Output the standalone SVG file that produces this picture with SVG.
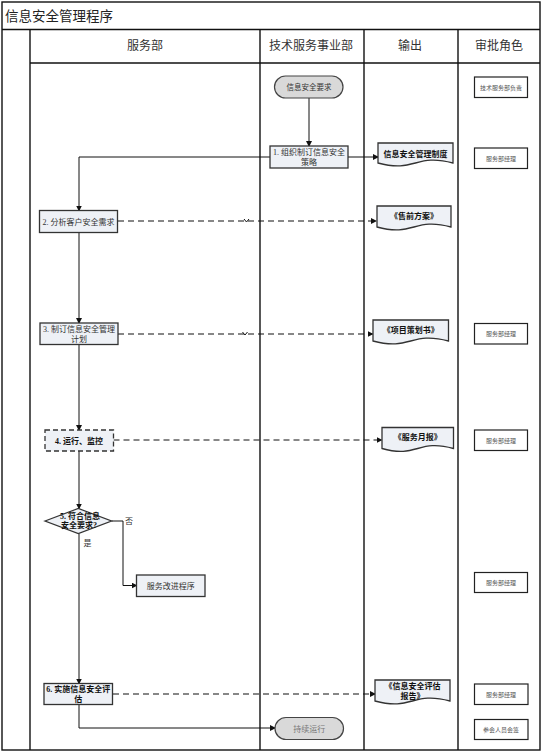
<svg xmlns="http://www.w3.org/2000/svg" width="543" height="753" viewBox="0 0 543 753">
<style>
text{font-family:"Liberation Serif","Noto Sans CJK SC",serif;fill:#222}
.hd{font-size:12px;text-anchor:middle;fill:#333}
.bx{fill:#eef1f6;stroke:#333;stroke-width:1.3}
.t8{font-size:8px;text-anchor:middle;fill:#333}
.b8{font-size:8px;text-anchor:middle;font-weight:bold;fill:#111}
.role{fill:#fff;stroke:#222;stroke-width:1.2}
.rt{font-size:6px;text-anchor:middle;fill:#555}
.term{fill:#d9d9d9;stroke:#444;stroke-width:1.2}
.ln{fill:none;stroke:#111;stroke-width:1}
.dl{fill:none;stroke:#111;stroke-width:1.2;stroke-dasharray:6,4}
.grid{fill:none;stroke:#111;stroke-width:1.4}
</style>
<defs>
<marker id="ah" markerWidth="6" markerHeight="6" refX="5" refY="3" orient="auto" markerUnits="userSpaceOnUse">
<path d="M0,0 L6,3 L0,6 Z" fill="#111"/>
</marker>
</defs>
<rect x="0" y="0" width="543" height="753" fill="#fff"/>
<g id="frame">
<rect class="grid" x="2" y="2" width="538" height="748"/>
<line class="grid" x1="2" y1="29.5" x2="540" y2="29.5"/>
<line class="grid" x1="30" y1="63" x2="540" y2="63"/>
<line class="grid" x1="30" y1="29.5" x2="30" y2="750"/>
<line class="grid" x1="260" y1="29.5" x2="260" y2="750"/>
<line class="grid" x1="364" y1="29.5" x2="364" y2="750"/>
<line class="grid" x1="458" y1="29.5" x2="458" y2="750"/>
<text x="5" y="21" style="font-size:13.5px;fill:#222">信息安全管理程序</text>
<text class="hd" x="145" y="50">服务部</text>
<text class="hd" x="311" y="50">技术服务事业部</text>
<text class="hd" x="410" y="50">输出</text>
<text class="hd" x="499" y="50">审批角色</text>
</g>
<g id="connectors">
<line class="ln" x1="309" y1="98" x2="309" y2="146" marker-end="url(#ah)"/>
<line class="ln" x1="348" y1="157" x2="378" y2="157" marker-end="url(#ah)"/>
<polyline class="ln" points="270,157 79,157 79,210.5" marker-end="url(#ah)"/>
<line class="ln" x1="79" y1="233" x2="79" y2="323" marker-end="url(#ah)"/>
<line class="ln" x1="79" y1="344.5" x2="79" y2="430" marker-end="url(#ah)"/>
<line class="ln" x1="79" y1="451" x2="79" y2="508.5" marker-end="url(#ah)"/>
<line class="ln" x1="79" y1="533.5" x2="79" y2="683.5" marker-end="url(#ah)"/>
<polyline class="ln" points="111.5,521 123,521 123,585.5 136.5,585.5" marker-end="url(#ah)"/>
<polyline class="ln" points="79,704.5 79,728 275,728" marker-end="url(#ah)"/>
<line class="dl" x1="118" y1="221" x2="376" y2="221" marker-end="url(#ah)"/>
<polyline class="ln" points="244,219 246.5,222 249,219"/>
<line class="dl" x1="118" y1="334" x2="372.5" y2="334" marker-end="url(#ah)"/>
<polyline class="ln" points="242.5,332 245,335 247.5,332"/>
<line class="dl" x1="113.5" y1="440" x2="381.5" y2="440" marker-end="url(#ah)"/>
<line class="dl" x1="113" y1="694" x2="375" y2="694" marker-end="url(#ah)"/>
<text class="t8" x="129" y="524">否</text>
<text class="t8" x="87.5" y="546">是</text>
</g>
<g id="start">
<rect class="term" x="274.5" y="76" width="68.5" height="22" rx="11"/>
<text class="t8" x="309" y="90" style="font-size:7.5px">信息安全要求</text>
</g>
<g id="step1">
<rect class="bx" x="270" y="146" width="78" height="22"/>
<text class="t8" x="309" y="155">1. 组织制订信息安全</text>
<text class="t8" x="309" y="165">策略</text>
</g>
<g id="doc1">
<path class="bx" d="M378,143 H453 V163 C415.5,173 415.5,153 378,163 Z" transform="matrix(-1 0 0 1 831 0)"/>
<text class="b8" x="415.5" y="157">信息安全管理制度</text>
</g>
<g id="step2">
<rect class="bx" x="39.5" y="210.5" width="78" height="22"/>
<text class="t8" x="78.5" y="224.5">2. 分析客户安全需求</text>
</g>
<g id="doc2">
<path class="bx" d="M377,206 H451 V227 C414,237 414,217 377,227 Z" transform="matrix(-1 0 0 1 828 0)"/>
<text class="b8" x="414" y="219">《售前方案》</text>
</g>
<g id="step3">
<rect class="bx" x="40" y="323" width="78" height="21.5"/>
<text class="t8" x="79" y="331.5">3. 制订信息安全管理</text>
<text class="t8" x="79" y="341.5">计划</text>
</g>
<g id="doc3">
<path class="bx" d="M373,320 H448.5 V341 C410.75,351 410.75,331 373,341 Z" transform="matrix(-1 0 0 1 821.5 0)"/>
<text class="b8" x="410.75" y="333">《项目策划书》</text>
</g>
<g id="step4">
<rect class="bx" x="45" y="430" width="68.5" height="21" style="stroke-dasharray:5,3"/>
<text class="b8" x="79" y="443.5">4. 运行、监控</text>
</g>
<g id="doc4">
<path class="bx" d="M382,427.5 H453.5 V448.5 C417.75,458.5 417.75,438.5 382,448.5 Z" transform="matrix(-1 0 0 1 835.5 0)"/>
<text class="b8" x="417.75" y="440">《服务月报》</text>
</g>
<g id="decision">
<path class="bx" d="M45,521 L78.3,508.5 L111.5,521 L78.3,533.5 Z"/>
<text class="b8" x="80" y="519">5. 符合信息</text>
<text class="b8" x="79" y="528">安全要求?</text>
</g>
<g id="improve">
<rect class="bx" x="136.5" y="575" width="68.5" height="21.5"/>
<text class="t8" x="170.75" y="588.5">服务改进程序</text>
</g>
<g id="step6">
<rect class="bx" x="44" y="683.5" width="68.5" height="21"/>
<text class="b8" x="78.3" y="692">6. 实施信息安全评</text>
<text class="b8" x="78.3" y="702">估</text>
</g>
<g id="doc6">
<path class="bx" d="M375,680 H450 V701 C412.5,711 412.5,691 375,701 Z" transform="matrix(-1 0 0 1 825 0)"/>
<text class="b8" x="412.5" y="689">《信息安全评估</text>
<text class="b8" x="412.5" y="699">报告》</text>
</g>
<g id="end">
<rect class="term" x="275" y="717.5" width="68.5" height="22" rx="11"/>
<text class="t8" x="309.25" y="731.5" style="fill:#777">持续运行</text>
</g>
<g id="roles">
<rect class="role" x="474.5" y="77" width="53" height="20.5"/>
<text class="rt" x="501" y="89.5">技术服务部负责</text>
<rect class="role" x="474.5" y="148" width="53" height="20.5"/>
<text class="rt" x="501" y="160.5">服务部经理</text>
<rect class="role" x="474.5" y="323.5" width="53" height="20.5"/>
<text class="rt" x="501" y="336">服务部经理</text>
<rect class="role" x="474.5" y="430" width="53" height="20.5"/>
<text class="rt" x="501" y="442.5">服务部经理</text>
<rect class="role" x="474.5" y="572.5" width="53" height="20"/>
<text class="rt" x="501" y="584.5">服务部经理</text>
<rect class="role" x="474.5" y="684" width="53.5" height="20.5"/>
<text class="rt" x="501" y="696.5">服务部经理</text>
<rect class="role" x="474.5" y="719.5" width="53.5" height="20"/>
<text class="rt" x="501" y="731.5">参会人员会签</text>
</g>
</svg>
